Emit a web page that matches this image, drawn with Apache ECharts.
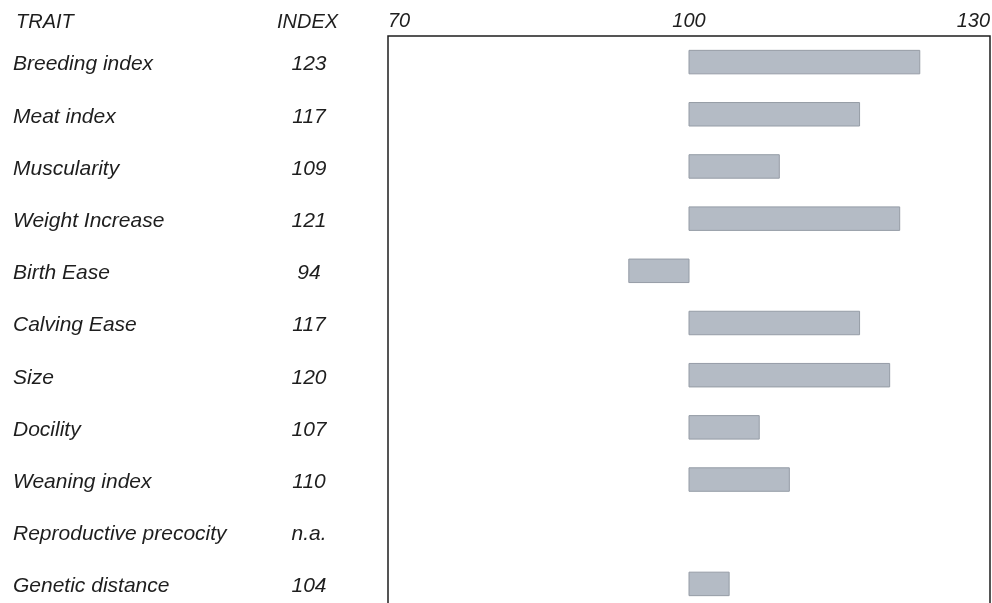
<!DOCTYPE html>
<html>
<head>
<meta charset="utf-8">
<script src="https://cdn.jsdelivr.net/npm/echarts@6/dist/echarts.min.js"></script>
<style>html,body{margin:0;padding:0;background:#fff;overflow:hidden;}#c{width:992px;height:603px;overflow:hidden;}</style>
</head>
<body>
<div id="c"></div>
<script>
const traits = ["Breeding index","Meat index","Muscularity","Weight Increase","Birth Ease","Calving Ease","Size","Docility","Weaning index","Reproductive precocity","Genetic distance"];
const indexLabels = ["123","117","109","121","94","117","120","107","110","n.a.","104"];
const values = [123,117,109,121,94,117,120,107,110,null,104];
const baseValue = 100;
const xTicks = [70,100,130];
const headers = ["TRAIT","INDEX"];

const chart = echarts.init(document.getElementById('c'));
const font = 'Liberation Sans, Arial, sans-serif';
const txtColor = '#1e1e1e';
chart.setOption({
  animation: false,
  backgroundColor: '#fff',
  grid: {left: 388, width: 602, top: 36, height: 574, outerBoundsMode: 'none', containLabel: false,
    show: true, borderColor: '#1e1e1e', borderWidth: 1.5, backgroundColor: 'transparent'},
  xAxis: {
    type: 'value', position: 'top', min: xTicks[0], max: xTicks[2], interval: xTicks[1]-xTicks[0],
    axisLine: {show: false}, axisTick: {show: false}, splitLine: {show: false},
    axisLabel: {margin: 5, fontFamily: font, fontStyle: 'italic', fontSize: 20, color: txtColor,
      alignMinLabel: 'left', alignMaxLabel: 'right'}
  },
  yAxis: {
    type: 'category', inverse: true, data: traits,
    axisLine: {show: false}, axisTick: {show: false}, splitLine: {show: false},
    axisLabel: {
      margin: 375, align: 'left',
      formatter: (v, i) => '{t|' + v + '}{i|' + indexLabels[i] + '}',
      rich: {
        t: {width: 262, fontFamily: font, fontStyle: 'italic', fontSize: 21, color: txtColor, padding: [5,0,0,0]},
        i: {width: 68, align: 'center', fontFamily: font, fontStyle: 'italic', fontSize: 21, color: txtColor, padding: [5,0,0,0]}
      }
    }
  },
  graphic: [
    {type: 'text', left: 16, top: 12, style: {text: headers[0], font: 'italic 20px ' + font, fill: txtColor}},
    {type: 'text', left: 277, top: 12, style: {text: headers[1], font: 'italic 20px ' + font, fill: txtColor}}
  ],
  series: [{
    type: 'custom',
    encode: {x: 0, y: 1},
    data: values.map((v, i) => [v == null ? '-' : v, i]),
    renderItem: function (params, api) {
      const v = api.value(0);
      if (v == null || isNaN(v)) return;
      const idx = api.value(1);
      const p0 = api.coord([baseValue, idx]);
      const p1 = api.coord([v, idx]);
      const h = api.size([0, 1])[1] * 0.45;
      return {
        type: 'rect',
        shape: {x: Math.min(p0[0], p1[0]), y: p0[1] - h/2, width: Math.abs(p1[0]-p0[0]), height: h},
        style: {fill: '#b4bbc5', stroke: '#959ca6', lineWidth: 1}
      };
    }
  }]
});
</script>
</body>
</html>
